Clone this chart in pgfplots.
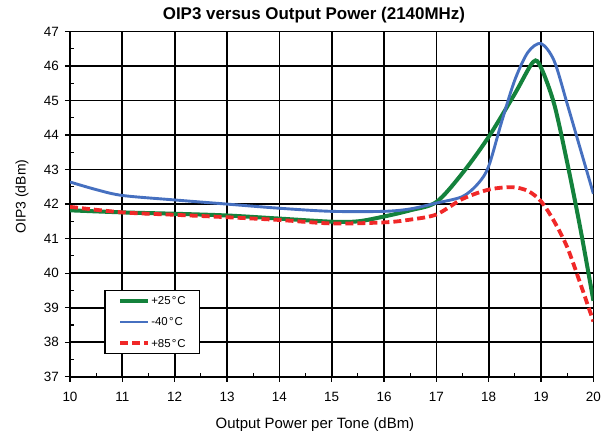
\documentclass[border=0pt]{standalone}
\usepackage{pgfplots}
\pgfplotsset{compat=1.18}
\usepackage{fontspec}
\setmainfont{Liberation Sans}

\definecolor{cgreen}{RGB}{20,130,60}
\definecolor{cblue}{RGB}{70,112,192}
\definecolor{cred}{RGB}{240,40,40}

\newcommand{\degC}{\kern1.2pt°\kern1pt C}

\begin{document}
\begin{tikzpicture}
\useasboundingbox (-70bp,-54.3bp) rectangle (534bp,376.7bp);
\begin{axis}[
  at={(0,0)}, anchor=south west,
  scale only axis, width=523.4bp, height=345.2bp,
  xmin=10, xmax=20, ymin=37, ymax=47,
  xtick={10,...,20}, ytick={37,...,47},
  minor x tick num=1, minor y tick num=1,
  grid=major,
  major grid style={black, line width=1.7bp},
  axis line style={black, line width=1.7bp},
  tick style={black, line width=1.2bp},
  tick align=inside,
  major tick length=5bp,
  minor tick length=4bp,
  every major x tick/.append style={yshift=-5bp},
  every major y tick/.append style={xshift=-5bp},
  xtick pos=bottom, ytick pos=left,
  /pgf/number format/assume math mode=true,
  tick label style={font=\fontsize{13.5}{15}\selectfont, inner sep=0pt},
  xticklabel style={anchor=base, yshift=-25bp},
  yticklabel style={anchor=east, xshift=-11bp},
  title={\bfseries OIP3 versus Output Power (2140MHz)},
  title style={font=\fontsize{17}{19}\selectfont, at={(0.466,1)}, anchor=base,
    inner sep=0pt, yshift=6.5bp},
  xlabel={Output Power per Tone (dBm)},
  ylabel={OIP3 (dBm)},
  xlabel style={font=\fontsize{15}{17}\selectfont, at={(axis description cs:0.468,0)},
    anchor=base, inner sep=0pt, yshift=-51.6bp},
  ylabel style={font=\fontsize{14}{16}\selectfont, at={(axis description cs:-0.0917,0.522)},
    anchor=center, inner sep=0pt},
  legend style={at={(0.065,0.252)}, anchor=north west, draw=black,
    line width=1.5bp, font=\fontsize{11.5}{12}\selectfont,
    nodes={inner sep=0pt, text depth=0pt},
    inner xsep=13.5bp, inner ysep=6.3bp, row sep=13.2bp, column sep=1bp,
    legend cell align=left},
  legend image code/.code={\draw[#1] (0bp,0bp) -- (28bp,0bp);},
]
\addplot[cgreen, line width=4bp, smooth] coordinates {
 (10,41.82) (11,41.76) (12,41.72) (13,41.67) (14,41.58) (15,41.49)
 (15.5,41.50) (16,41.64) (16.5,41.82) (17,42.06) (17.5,42.9) (18,43.95)
 (18.5,45.2) (18.85,46.12) (19.0,45.95) (19.25,44.9) (19.5,43.2)
 (19.75,41.3) (20,39.2)};
\addlegendentry{+25\degC}
\addplot[cblue, line width=2.9bp, smooth] coordinates {
 (10,42.64) (10.5,42.42) (11,42.25) (12,42.12) (13,42.0) (14,41.88)
 (15,41.79) (16,41.79) (16.5,41.86) (17,42.03) (17.5,42.22) (17.8,42.6)
 (18,43.1) (18.25,44.4) (18.5,45.6) (18.75,46.4) (19,46.65) (19.25,46.15)
 (19.5,44.9) (19.75,43.6) (20,42.3)};
\addlegendentry{-40\degC}
\addplot[cred, line width=3.8bp, smooth, dash pattern=on 8bp off 4bp] coordinates {
 (10,41.92) (11,41.76) (12,41.69) (13,41.62) (14,41.54) (15,41.44)
 (16,41.47) (16.5,41.55) (17,41.7) (17.5,42.15) (18,42.42) (18.45,42.49)
 (18.75,42.38) (19,42.08) (19.25,41.5) (19.5,40.75) (19.75,39.7) (20,38.6)};
\addlegendentry{+85\degC}
\end{axis}
\end{tikzpicture}
\end{document}
